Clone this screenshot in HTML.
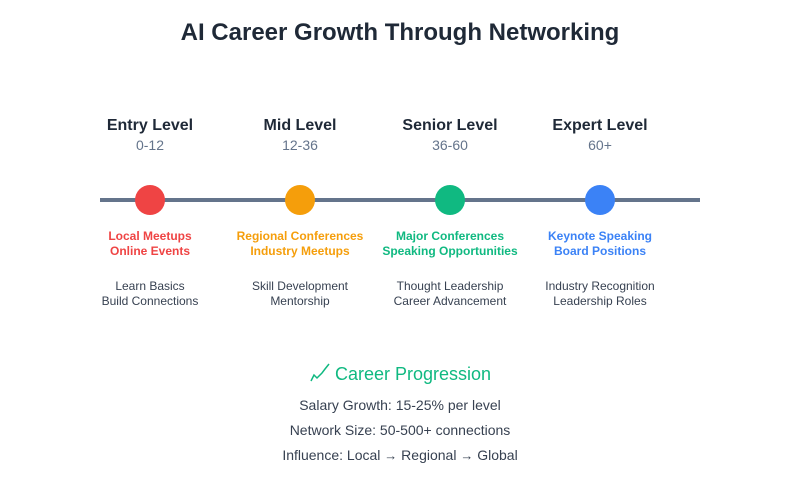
<!DOCTYPE html>
<html><head><meta charset="utf-8"><style>
html,body{margin:0;padding:0;background:#fff;}
svg{display:block;font-family:"Liberation Sans",Arial,sans-serif;}
</style></head><body>
<svg width="800" height="500" viewBox="0 0 800 500" xmlns="http://www.w3.org/2000/svg">
<rect width="800" height="500" fill="#fff"/>
<text x="400" y="40" text-anchor="middle" font-size="24" font-weight="bold" fill="#1f2937">AI Career Growth Through Networking</text>
<g text-anchor="middle">
<g font-size="16" font-weight="bold" fill="#1f2937">
<text x="150" y="130">Entry Level</text><text x="300" y="130">Mid Level</text><text x="450" y="130">Senior Level</text><text x="600" y="130">Expert Level</text>
</g>
<g font-size="14" fill="#64748b">
<text x="150" y="150">0-12</text><text x="300" y="150">12-36</text><text x="450" y="150">36-60</text><text x="600" y="150">60+</text>
</g>
<line x1="100" y1="200" x2="700" y2="200" stroke="#64748b" stroke-width="4"/>
<circle cx="150" cy="200" r="15" fill="#ef4444"/>
<circle cx="300" cy="200" r="15" fill="#f59e0b"/>
<circle cx="450" cy="200" r="15" fill="#10b981"/>
<circle cx="600" cy="200" r="15" fill="#3b82f6"/>
<g font-size="12" font-weight="bold">
<text x="150" y="240" fill="#ef4444">Local Meetups</text><text x="150" y="255" fill="#ef4444">Online Events</text>
<text x="300" y="240" fill="#f59e0b">Regional Conferences</text><text x="300" y="255" fill="#f59e0b">Industry Meetups</text>
<text x="450" y="240" fill="#10b981">Major Conferences</text><text x="450" y="255" fill="#10b981">Speaking Opportunities</text>
<text x="600" y="240" fill="#3b82f6">Keynote Speaking</text><text x="600" y="255" fill="#3b82f6">Board Positions</text>
</g>
<g font-size="12" fill="#374151">
<text x="150" y="290">Learn Basics</text><text x="150" y="305">Build Connections</text>
<text x="300" y="290">Skill Development</text><text x="300" y="305">Mentorship</text>
<text x="450" y="290">Thought Leadership</text><text x="450" y="305">Career Advancement</text>
<text x="600" y="290">Industry Recognition</text><text x="600" y="305">Leadership Roles</text>
</g>
<text x="413" y="380" font-size="18" fill="#10b981">Career Progression</text>
<g font-size="14" fill="#374151">
<text x="400" y="410">Salary Growth: 15-25% per level</text>
<text x="400" y="435">Network Size: 50-500+ connections</text>
<text x="400" y="460">Influence: Local <tspan font-size="13">→</tspan> Regional <tspan font-size="13">→</tspan> Global</text>
</g>
</g>
<polyline points="311,381 314,375 317,378 322,373 325,369 329,364" fill="none" stroke="#10b981" stroke-width="1.5"/>
</svg>
</body></html>
